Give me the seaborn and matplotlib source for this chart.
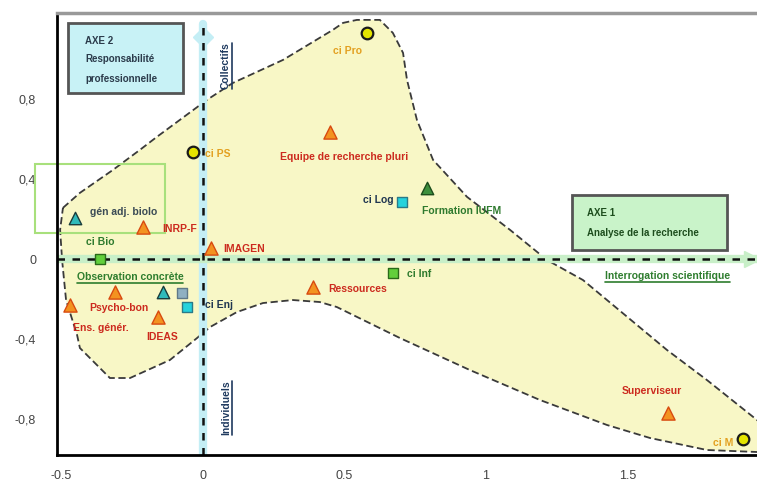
import matplotlib
matplotlib.use("Agg")
import matplotlib.pyplot as plt
from matplotlib.patches import Polygon, Rectangle
from matplotlib.lines import Line2D
import seaborn as sns
import pandas as pd

# --- data: factorial-plane coordinates of each modality -------------------
names = ["ci Pro", "Equipe de recherche pluri", "ci PS", "Formation IUFM",
         "ci Log", "gén adj. biolo", "INRP-F", "IMAGEN", "ci Bio", "ci Inf",
         "Ressources", "Psycho-bon", "Ens. génér.", "adj. psy", "ci Soc",
         "ci Enj", "IDEAS", "Superviseur", "ci M"]
axis1 = [0.580, 0.449, -0.035, 0.792, 0.703, -0.452, -0.212, 0.028, -0.364,
         0.671, 0.389, -0.311, -0.470, -0.141, -0.074, -0.057, -0.159,
         1.643, 1.908]
axis2 = [1.133, 0.638, 0.538, 0.358, 0.288, 0.208, 0.163, 0.058, 0.0,
         -0.068, -0.138, -0.163, -0.228, -0.163, -0.168, -0.238, -0.288,
         -0.768, -0.898]
kinds = ["circle", "tri_o", "circle", "tri_g", "sq_c", "tri_t", "tri_o",
         "tri_o", "sq_g", "sq_g", "tri_o", "tri_o", "tri_o", "tri_t", "sq_s",
         "sq_c", "tri_o", "tri_o", "circle"]
shown = [True, True, True, True, True, True, True, True, True, True, True,
         True, True, False, False, True, True, True, True]

# outline of the cluster envelope
hull_x = [-0.495, -0.435, -0.318, -0.223, -0.163, 0.014, 0.106, 0.283, 0.459,
          0.495, 0.544, 0.625, 0.671, 0.707, 0.721, 0.756, 0.813, 0.933,
          1.085, 1.216, 1.343, 1.640, 1.781, 1.958, 2.057, 1.958, 1.781,
          1.580, 1.428, 1.191, 0.943, 0.696, 0.473, 0.413, 0.318, 0.212,
          0.120, 0.025, -0.021, -0.117, -0.258, -0.329, -0.435, -0.445,
          -0.484, -0.498, -0.505]
hull_y = [0.258, 0.333, 0.448, 0.548, 0.613, 0.798, 0.883, 0.998, 1.148,
          1.183, 1.198, 1.198, 1.133, 1.033, 0.898, 0.698, 0.498, 0.313,
          0.148, -0.003, -0.103, -0.453, -0.603, -0.803, -0.928, -0.963,
          -0.953, -0.893, -0.828, -0.703, -0.553, -0.393, -0.238, -0.213,
          -0.203, -0.218, -0.263, -0.338, -0.393, -0.503, -0.593, -0.593,
          -0.443, -0.378, -0.203, -0.003, 0.148]

x_ticks = [-0.5, 0, 0.5, 1, 1.5]
x_tick_labels = ["-0.5", "0", "0.5", "1", "1.5"]
y_ticks = [0.8, 0.4, 0, -0.4, -0.8]
y_tick_labels = ["0,8", "0,4", "0", "-0,4", "-0,8"]

df = pd.DataFrame({"name": names, "ax1": axis1, "ax2": axis2,
                   "kind": kinds, "shown": shown})

# --- styles -------------------------------------------------------------
marker_style = {
    "circle": dict(marker="o", s=70, color="#e4e400", edgecolor="#1a1a1a", linewidth=1.6),
    "tri_o": dict(marker="^", s=90, color="#f39220", edgecolor="#d84a10", linewidth=1.0),
    "tri_g": dict(marker="^", s=80, color="#3d8f3d", edgecolor="#1c4d1c", linewidth=1.0),
    "tri_t": dict(marker="^", s=80, color="#30baba", edgecolor="#1a3c3c", linewidth=1.0),
    "sq_c": dict(marker="s", s=55, color="#25d2dc", edgecolor="#2a7a88", linewidth=1.0),
    "sq_g": dict(marker="s", s=55, color="#62cf3c", edgecolor="#2a6a1a", linewidth=1.0),
    "sq_s": dict(marker="s", s=55, color="#8fb0c2", edgecolor="#5f7888", linewidth=1.0),
}
label_style = {
    "circle": dict(color="#e3a020", fontweight="bold"),
    "tri_o": dict(color="#cc2a1e", fontweight="bold"),
    "tri_g": dict(color="#2e7a2e", fontweight="bold"),
    "tri_t": dict(color="#3a4a55", fontweight="bold"),
    "sq_c": dict(color="#1f3550", fontweight="bold"),
    "sq_g": dict(color="#2e7a2e", fontweight="bold"),
    "sq_s": dict(color="#1f3550", fontweight="bold"),
}
# label placement (offset in pixels, alignment)
label_pos = {
    "ci Pro": (-20, -18, "center"),
    "Equipe de recherche pluri": (14, -25, "center"),
    "ci PS": (12, -2, "left"),
    "Formation IUFM": (-5, -23, "left"),
    "ci Log": (-8, 2, "right"),
    "gén adj. biolo": (15, 6, "left"),
    "INRP-F": (19, -2, "left"),
    "IMAGEN": (12, -1, "left"),
    "ci Bio": (0, 17, "center"),
    "ci Inf": (14, -1, "left"),
    "Ressources": (15, -2, "left"),
    "Psycho-bon": (4, -16, "center"),
    "Ens. génér.": (3, -23, "left"),
    "ci Enj": (18, 2, "left"),
    "IDEAS": (4, -20, "center"),
    "Superviseur": (-16, 22, "center"),
    "ci M": (-9, -4, "right"),
}

sns.set_theme(style="white")
plt.rcParams["font.family"] = ["Liberation Sans", "DejaVu Sans"]

fig = plt.figure(figsize=(7.57, 4.88), dpi=100)
ax = fig.add_axes([57 / 757, 33 / 488, 700 / 757, 442 / 488])
ax.set_xlim(-0.516, 1.958)
ax.set_ylim(-0.978, 1.2325)

# envelope
ax.add_patch(Polygon(list(zip(hull_x, hull_y)), closed=True,
                     facecolor="#f8f7c6", edgecolor="none", zorder=0.5))
ax.add_patch(Polygon(list(zip(hull_x, hull_y)), closed=True, fill=False,
                     edgecolor="#3a3a3a", linewidth=1.3,
                     linestyle=(0, (4, 2)), zorder=0.6))

# factorial axes (bands + dashed lines)
top_frac = 0.975
ax.axvline(0, ymax=top_frac, color="#c4eef5", lw=6, zorder=1)
ax.axvline(0, ymax=top_frac, color="#111111", lw=1.8, ls=(0, (3, 3)), zorder=1.1)
ax.axhline(0, color="#c8efc8", lw=6, zorder=1)
ax.axhline(0, color="#111111", lw=1.8, ls=(0, (3, 3)), zorder=1.1)
ax.plot([0], [1.11], marker="D", ms=10, color="#c4eef5", zorder=1, clip_on=False)
ax.plot([1.94], [0], marker=">", ms=12, color="#c8efc8", zorder=1, clip_on=False)

# points
for kind, sub in df.groupby("kind", sort=False):
    st = marker_style[kind]
    sns.scatterplot(data=sub, x="ax1", y="ax2", ax=ax, marker=st["marker"],
                    s=st["s"], color=st["color"], edgecolor=st["edgecolor"],
                    linewidth=st["linewidth"], zorder=3, legend=False,
                    clip_on=False)

for _, r in df[df["shown"]].iterrows():
    dx, dy, ha = label_pos[r["name"]]
    ax.annotate(r["name"], (r["ax1"], r["ax2"]), xytext=(dx, dy),
                textcoords="offset pixels", ha=ha, va="center",
                fontsize=7.5, zorder=4, **label_style[r["kind"]])

# highlight frame around the left cluster
ax.add_patch(Rectangle((-0.594, 0.133), 0.46, 0.345, fill=False,
                       edgecolor="#a8e07c", linewidth=1.5, zorder=2,
                       clip_on=False))

# axis title boxes
ax.add_patch(Rectangle((-0.477, 0.833), 0.406, 0.35, facecolor="#c8f2f6",
                       edgecolor="#555555", linewidth=2, zorder=5))
for yy, txt in zip([1.09, 1.0, 0.9], ["AXE 2", "Responsabilité", "professionnelle"]):
    ax.text(-0.417, yy, txt, fontsize=7, fontweight="bold", color="#2b3b4b",
            va="center", ha="left", zorder=6)

ax.add_patch(Rectangle((1.304, 0.048), 0.548, 0.275, facecolor="#c9f3c9",
                       edgecolor="#555555", linewidth=2, zorder=5))
for yy, txt in zip([0.233, 0.133], ["AXE 1", "Analyse de la recherche"]):
    ax.text(1.357, yy, txt, fontsize=7, fontweight="bold", color="#1d4d1d",
            va="center", ha="left", zorder=6)

# pole labels
underlined = []
underlined.append(ax.text(0.081, 0.968, "Collectifs", rotation=90, fontsize=7.5,
                          fontweight="bold", color="#1f3a5f", ha="center",
                          va="center", zorder=6))
underlined.append(ax.text(0.081, -0.743, "Individuels", rotation=90, fontsize=7.5,
                          fontweight="bold", color="#1f3a5f", ha="center",
                          va="center", zorder=6))
underlined.append(ax.text(-0.258, -0.0875, "Observation concrète", fontsize=7.5,
                          fontweight="bold", color="#2e7d2e", ha="center",
                          va="center", zorder=6))
underlined.append(ax.text(1.643, -0.083, "Interrogation scientifique", fontsize=7.5,
                          fontweight="bold", color="#2e7d2e", ha="center",
                          va="center", zorder=6))

# frame and ticks
for side in ["left", "bottom"]:
    ax.spines[side].set_color("black")
    ax.spines[side].set_linewidth(2)
ax.spines["top"].set_color("#999999")
ax.spines["top"].set_linewidth(2.5)
ax.spines["right"].set_visible(False)
ax.set_xticks(x_ticks)
ax.set_xticklabels(x_tick_labels)
ax.set_yticks(y_ticks)
ax.set_yticklabels(y_tick_labels)
ax.tick_params(direction="out", length=7, width=2, color="black",
               labelsize=9, labelcolor="#444444", pad=4)
ax.tick_params(axis="y", length=9, pad=6)
ax.set_xlabel("")
ax.set_ylabel("")

# underline pole labels
fig.canvas.draw()
renderer = fig.canvas.get_renderer()
inv = fig.transFigure.inverted()
for t in underlined:
    bb = t.get_window_extent(renderer)
    if t.get_rotation() == 90:
        p0, p1 = (bb.x1 + 1, bb.y0), (bb.x1 + 1, bb.y1)
    else:
        p0, p1 = (bb.x0, bb.y0 - 1), (bb.x1, bb.y0 - 1)
    (a0, b0), (a1, b1) = inv.transform([p0, p1])
    fig.add_artist(Line2D([a0, a1], [b0, b1], color=t.get_color(), lw=1.2,
                          zorder=7))

fig.savefig("out.png", dpi=100)
